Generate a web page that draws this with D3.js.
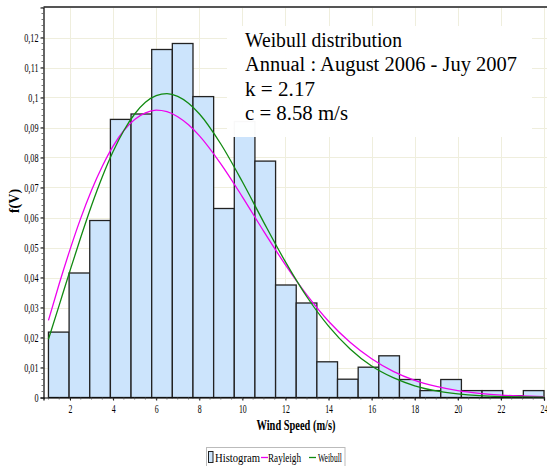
<!DOCTYPE html>
<html>
<head>
<meta charset="utf-8">
<script src="https://cdn.jsdelivr.net/npm/d3@7/dist/d3.min.js"></script>
<style>
  html, body { margin: 0; padding: 0; background: #fff; }
  svg { display: block; }
  text { font-family: "Liberation Serif", "DejaVu Serif", serif; }
</style>
</head>
<body>
<svg id="chart" width="547" height="466"></svg>
<script>
// ---- data ----
const binEdges = [1.0, 1.9583, 2.9167, 3.875, 4.8333, 5.7917, 6.75, 7.7083, 8.6667, 9.625,
  10.5833, 11.5417, 12.5, 13.4583, 14.4167, 15.375, 16.3333, 17.2917, 18.25, 19.2083,
  20.1667, 21.125, 22.0833, 23.0417, 24.0];
const histValues = [0.0218, 0.0415, 0.0590, 0.0927, 0.0945, 0.1160, 0.1180, 0.1003, 0.0630, 0.0920,
  0.0788, 0.0375, 0.0315, 0.0119, 0.0061, 0.0101, 0.0139, 0.0060, 0.0023, 0.0060,
  0.0023, 0.0023, 0.0006, 0.0023];
const curveX = [1, 1.5, 2, 2.5, 3, 3.5, 4, 4.5, 5, 5.5, 6, 6.5, 7, 7.5, 8, 9, 10, 11, 12, 13,
  14, 15, 16, 17, 18, 19, 20, 21, 22, 23, 24];
const rayleighValues = [0.0257, 0.0379, 0.0493, 0.0598, 0.0691, 0.0771, 0.0838, 0.0890, 0.0927, 0.0949,
  0.0958, 0.0953, 0.0936, 0.0909, 0.0873, 0.0779, 0.0669, 0.0553, 0.0442, 0.0341,
  0.0254, 0.0184, 0.0129, 0.0087, 0.0057, 0.0037, 0.0023, 0.0014, 0.0008, 0.0005, 0.0003];
const weibullValues = [0.0194, 0.0308, 0.0423, 0.0534, 0.0640, 0.0736, 0.0820, 0.0890, 0.0945, 0.0984,
  0.1006, 0.1013, 0.1004, 0.0981, 0.0946, 0.0845, 0.0719, 0.0583, 0.0452, 0.0335,
  0.0238, 0.0162, 0.0105, 0.0066, 0.0039, 0.0022, 0.0012, 0.0006, 0.0003, 0.0002, 0.0001];
const xTicks = [2, 4, 6, 8, 10, 12, 14, 16, 18, 20, 22, 24];
const yTicks = [0, 0.01, 0.02, 0.03, 0.04, 0.05, 0.06, 0.07, 0.08, 0.09, 0.1, 0.11, 0.12];
const infoLines = ["Weibull distribution", "Annual : August 2006 - Juy 2007", "k = 2.17", "c = 8.58 m/s"];
const legendLabels = ["Histogram", "Rayleigh", "Weibull"];
const xTitle = "Wind Speed (m/s)";
const yTitle = "f(V)";

// ---- layout ----
const svg = d3.select("#chart");
const pL = 43.5, pR = 544, pT = 7.5, pB = 397.5;
const x = d3.scaleLinear().domain([0.77, 24]).range([pL, pR]);
const y = d3.scaleLinear().domain([0, 0.13]).range([pB, pT]);

const condense = (sel, f) => sel.each(function () {
  const w = this.getComputedTextLength();
  d3.select(this).attr("textLength", w * f).attr("lengthAdjust", "spacingAndGlyphs");
});

// grid
const grid = svg.append("g").attr("stroke", "#efeedd").attr("stroke-width", 1);
grid.selectAll("line.h").data(yTicks.slice(1)).join("line").attr("class", "h")
  .attr("x1", pL).attr("x2", 547).attr("y1", d => Math.round(y(d)) + 0.5).attr("y2", d => Math.round(y(d)) + 0.5);
grid.selectAll("line.v").data(xTicks).join("line").attr("class", "v")
  .attr("y1", pT).attr("y2", pB).attr("x1", d => Math.round(x(d)) + 0.5).attr("x2", d => Math.round(x(d)) + 0.5);

// bars
const bars = histValues.map((v, i) => ({ x0: binEdges[i], x1: binEdges[i + 1], v }));
svg.append("g").selectAll("rect").data(bars).join("rect")
  .attr("x", d => x(d.x0)).attr("width", d => x(d.x1) - x(d.x0))
  .attr("y", d => y(d.v)).attr("height", d => y(0) - y(d.v))
  .attr("fill", "#cce4fc").attr("stroke", "#222").attr("stroke-width", 1.3);

// curves
const line = d3.line().x(d => x(d[0])).y(d => y(d[1])).curve(d3.curveMonotoneX);
svg.append("path").datum(curveX.map((v, i) => [v, rayleighValues[i]]))
  .attr("d", line).attr("fill", "none").attr("stroke", "#ee00ee").attr("stroke-width", 1.3);
svg.append("path").datum(curveX.map((v, i) => [v, weibullValues[i]]))
  .attr("d", line).attr("fill", "none").attr("stroke", "#118a11").attr("stroke-width", 1.3);

// info box
svg.append("rect").attr("x", 227).attr("y", 26).attr("width", 305).attr("height", 111)
  .attr("fill", "#fff").attr("fill-opacity", 0.97);
const infoW = [157, 272, 70, 103];
svg.append("g").selectAll("text").data(infoLines).join("text")
  .attr("x", 245).attr("y", (d, i) => 47 + i * 24.3)
  .attr("font-size", 20).attr("fill", "#000").text(d => d)
  .attr("textLength", (d, i) => infoW[i]).attr("lengthAdjust", "spacingAndGlyphs");

// top frame line
svg.append("line").attr("x1", pL).attr("x2", 547).attr("y1", 7).attr("y2", 7)
  .attr("stroke", "#555").attr("stroke-width", 2);

// y axis
const yAxis = d3.axisLeft(y).tickValues(yTicks).tickSize(3).tickPadding(2)
  .tickFormat(d => d === 0 ? "0" : d3.format("~g")(d).replace(".", ","));
const gy = svg.append("g").attr("transform", `translate(${pL},0)`).call(yAxis);
gy.select(".domain").attr("stroke", "#000").attr("stroke-width", 1.2);
gy.selectAll("text").attr("font-size", 12).attr("font-family", "Liberation Serif").attr("fill", "#000").call(condense, 0.68);
const yMinor = d3.range(0, 0.1301, 0.002);
svg.append("g").selectAll("line").data(yMinor).join("line")
  .attr("x1", pL - 2).attr("x2", pL).attr("y1", d => y(d)).attr("y2", d => y(d))
  .attr("stroke", "#555").attr("stroke-width", 0.8);

// x axis
const xAxis = d3.axisBottom(x).tickValues(xTicks).tickSize(3).tickPadding(4).tickFormat(d3.format("d"));
const gx = svg.append("g").attr("transform", `translate(0,${pB})`).call(xAxis);
gx.select(".domain").attr("stroke", "#000").attr("stroke-width", 1.2);
gx.selectAll("text").attr("font-size", 12).attr("font-family", "Liberation Serif").attr("fill", "#000").call(condense, 0.65);
const xMinor = d3.range(1, 24.01, 0.5);
svg.append("g").selectAll("line").data(xMinor).join("line")
  .attr("y1", pB).attr("y2", pB + 2).attr("x1", d => x(d)).attr("x2", d => x(d))
  .attr("stroke", "#555").attr("stroke-width", 0.8);

// titles
svg.append("text").attr("x", 296).attr("y", 430).attr("text-anchor", "middle")
  .attr("font-size", 14).attr("font-weight", "bold").attr("fill", "#000").text(xTitle)
  .attr("textLength", 79).attr("lengthAdjust", "spacingAndGlyphs");
svg.append("text").attr("transform", "translate(19,201) rotate(-90)").attr("text-anchor", "middle")
  .attr("font-size", 14).attr("font-weight", "bold").attr("fill", "#000").text(yTitle);

// legend
const lg = svg.append("g");
lg.append("rect").attr("x", 206.5).attr("y", 447.5).attr("width", 138.5).attr("height", 22)
  .attr("fill", "#fff").attr("stroke", "#bbb");
lg.append("rect").attr("x", 208.5).attr("y", 451.5).attr("width", 4.5).attr("height", 11)
  .attr("fill", "#cce4fc").attr("stroke", "#222").attr("stroke-width", 1);
lg.append("line").attr("x1", 261).attr("x2", 268).attr("y1", 457.5).attr("y2", 457.5).attr("stroke", "#ee00ee").attr("stroke-width", 1.3);
lg.append("line").attr("x1", 309).attr("x2", 316).attr("y1", 457.5).attr("y2", 457.5).attr("stroke", "#118a11").attr("stroke-width", 1.3);
const legX = [215, 268, 318], legW = [45, 33, 24];
lg.selectAll("text").data(legendLabels).join("text")
  .attr("x", (d, i) => legX[i]).attr("y", 461.5).attr("font-size", 12).attr("fill", "#000")
  .text(d => d).attr("textLength", (d, i) => legW[i]).attr("lengthAdjust", "spacingAndGlyphs");
</script>
</body>
</html>
